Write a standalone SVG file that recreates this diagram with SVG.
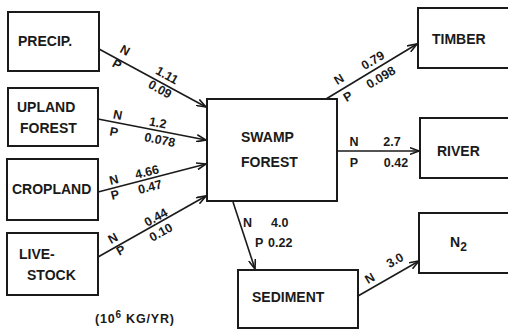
<svg xmlns="http://www.w3.org/2000/svg" width="508" height="331" viewBox="0 0 508 331">
<style>
.box{fill:#fff;stroke:#1a1a1a;stroke-width:2}
.t{font-family:"Liberation Sans",Arial,sans-serif;font-weight:bold;font-size:14px;fill:#1a1a1a}
.l{font-family:"Liberation Sans",Arial,sans-serif;font-weight:bold;font-size:12.5px;fill:#1a1a1a}
.c{stroke:#1a1a1a;stroke-width:1.6;fill:none;marker-end:url(#ah)}
</style>
<defs>
<marker id="ah" viewBox="0 0 10 8" refX="9.5" refY="4" markerWidth="10" markerHeight="8" markerUnits="userSpaceOnUse" orient="auto">
<path d="M0,0.5 L9.5,4 L0,7.5" fill="none" stroke="#1a1a1a" stroke-width="1.6"/>
</marker>
</defs>
<rect width="508" height="331" fill="#fff"/>
<g id="connectors">
<line class="c" x1="99" y1="49" x2="206" y2="107"/>
<line class="c" x1="98" y1="119" x2="206" y2="140"/>
<line class="c" x1="98" y1="192" x2="206" y2="164"/>
<line class="c" x1="98" y1="257" x2="206" y2="196"/>
<line class="c" x1="326" y1="99" x2="417" y2="44"/>
<line class="c" x1="337" y1="151" x2="419" y2="151"/>
<line class="c" x1="233" y1="202" x2="255" y2="269"/>
<line class="c" x1="358" y1="296" x2="419" y2="261"/>
<g class="l">
<text transform="translate(123,54) rotate(29)" text-anchor="middle">N</text>
<text transform="translate(115,68) rotate(29)" text-anchor="middle">P</text>
<text transform="translate(165,79) rotate(29)" text-anchor="middle">1.11</text>
<text transform="translate(158,93) rotate(29)" text-anchor="middle">0.09</text>
<text transform="translate(117,119) rotate(11)" text-anchor="middle">N</text>
<text transform="translate(113,136) rotate(11)" text-anchor="middle">P</text>
<text transform="translate(157,127) rotate(11)" text-anchor="middle">1.2</text>
<text transform="translate(159,144) rotate(11)" text-anchor="middle">0.078</text>
<text transform="translate(115,184) rotate(-14)" text-anchor="middle">N</text>
<text transform="translate(116,199) rotate(-14)" text-anchor="middle">P</text>
<text transform="translate(148,176) rotate(-14)" text-anchor="middle">4.66</text>
<text transform="translate(151,191) rotate(-14)" text-anchor="middle">0.47</text>
<text transform="translate(115,242) rotate(-29)" text-anchor="middle">N</text>
<text transform="translate(123,254) rotate(-29)" text-anchor="middle">P</text>
<text transform="translate(158,221) rotate(-29)" text-anchor="middle">0.44</text>
<text transform="translate(163,236) rotate(-29)" text-anchor="middle">0.10</text>
<text transform="translate(341,83) rotate(-31)" text-anchor="middle">N</text>
<text transform="translate(350,100) rotate(-31)" text-anchor="middle">P</text>
<text transform="translate(375,64) rotate(-31)" text-anchor="middle">0.79</text>
<text transform="translate(383,81) rotate(-31)" text-anchor="middle">0.098</text>
<text x="354" y="146" text-anchor="middle">N</text>
<text x="392" y="146" text-anchor="middle">2.7</text>
<text x="354" y="167" text-anchor="middle">P</text>
<text x="396" y="167" text-anchor="middle">0.42</text>
<text x="243" y="227">N</text>
<text x="271" y="227">4.0</text>
<text x="255" y="247">P</text>
<text x="268" y="247">0.22</text>
<text transform="translate(372,282) rotate(-30)" text-anchor="middle">N</text>
<text transform="translate(397,264) rotate(-30)" text-anchor="middle">3.0</text>
</g>
</g>
<g id="precip"><rect class="box" x="8" y="12" width="91" height="59"/><text class="t" x="18" y="46">PRECIP.</text></g>
<g id="upland"><rect class="box" x="8" y="88" width="90" height="58"/><text class="t" x="17" y="112">UPLAND</text><text class="t" x="20" y="133">FOREST</text></g>
<g id="cropland"><rect class="box" x="7" y="159" width="91" height="61"/><text class="t" x="12" y="194">CROPLAND</text></g>
<g id="livestock"><rect class="box" x="7" y="233" width="91" height="62"/><text class="t" x="19" y="259">LIVE-</text><text class="t" x="27" y="280">STOCK</text></g>
<g id="swamp"><rect class="box" x="207" y="99" width="130" height="102"/><text class="t" x="241" y="142">SWAMP</text><text class="t" x="241" y="167">FOREST</text></g>
<g id="timber"><rect class="box" x="418" y="8" width="92" height="60"/><text class="t" x="432" y="44">TIMBER</text></g>
<g id="river"><rect class="box" x="420" y="118" width="90" height="60"/><text class="t" x="437" y="156">RIVER</text></g>
<g id="sediment"><rect class="box" x="238" y="270" width="120" height="58"/><text class="t" x="252" y="302">SEDIMENT</text></g>
<g id="n2"><rect class="box" x="419" y="213" width="91" height="60"/><text class="t" x="450" y="247" font-size="15">N<tspan font-size="12" dy="4">2</tspan></text></g>
<text class="l" x="95" y="323" font-size="13" letter-spacing="0.8">(10<tspan font-size="10" dy="-5">6</tspan><tspan dy="5"> KG/YR)</tspan></text>
</svg>
